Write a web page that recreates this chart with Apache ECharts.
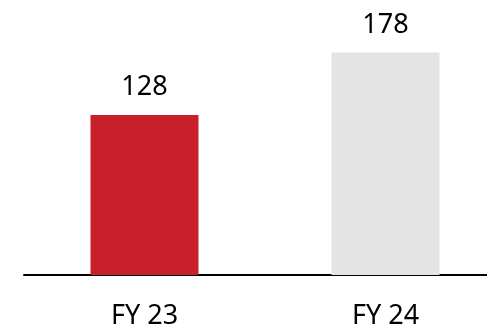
<!DOCTYPE html>
<html>
<head>
<meta charset="utf-8">
<script src="https://cdn.jsdelivr.net/npm/echarts@6/dist/echarts.min.js"></script>
<style>
  html, body { margin: 0; padding: 0; background: #fff; }
  #chart { width: 487px; height: 328px; }
</style>
</head>
<body>
<div id="chart"></div>
<script>
// Fiscal-year values and their bar colours
const categories = ['FY 23', 'FY 24'];
const values = [128, 178];
const barColors = ['#C91F2A', '#E4E4E4'];

const chart = echarts.init(document.getElementById('chart'), null, { renderer: 'canvas' });

chart.setOption({
  animation: false,
  grid: { left: 24, top: 25, width: 482, height: 250, outerBoundsMode: 'none', containLabel: false },
  xAxis: {
    type: 'category',
    data: categories,
    axisLine: { show: true, lineStyle: { color: '#000', width: 2 } },
    axisTick: { show: false },
    axisLabel: {
      color: '#000',
      fontFamily: 'Noto Sans',
      fontSize: 27,
      margin: 28
    }
  },
  yAxis: {
    type: 'value',
    min: 0,
    max: 200,
    show: false,
    splitLine: { show: false }
  },
  series: [{
    type: 'bar',
    barWidth: 108,
    data: values.map((v, i) => ({ value: v, itemStyle: { color: barColors[i] } })),
    label: {
      show: true,
      position: 'top',
      distance: 14,
      color: '#000',
      fontFamily: 'Noto Sans',
      fontSize: 27
    }
  }]
});
</script>
</body>
</html>
